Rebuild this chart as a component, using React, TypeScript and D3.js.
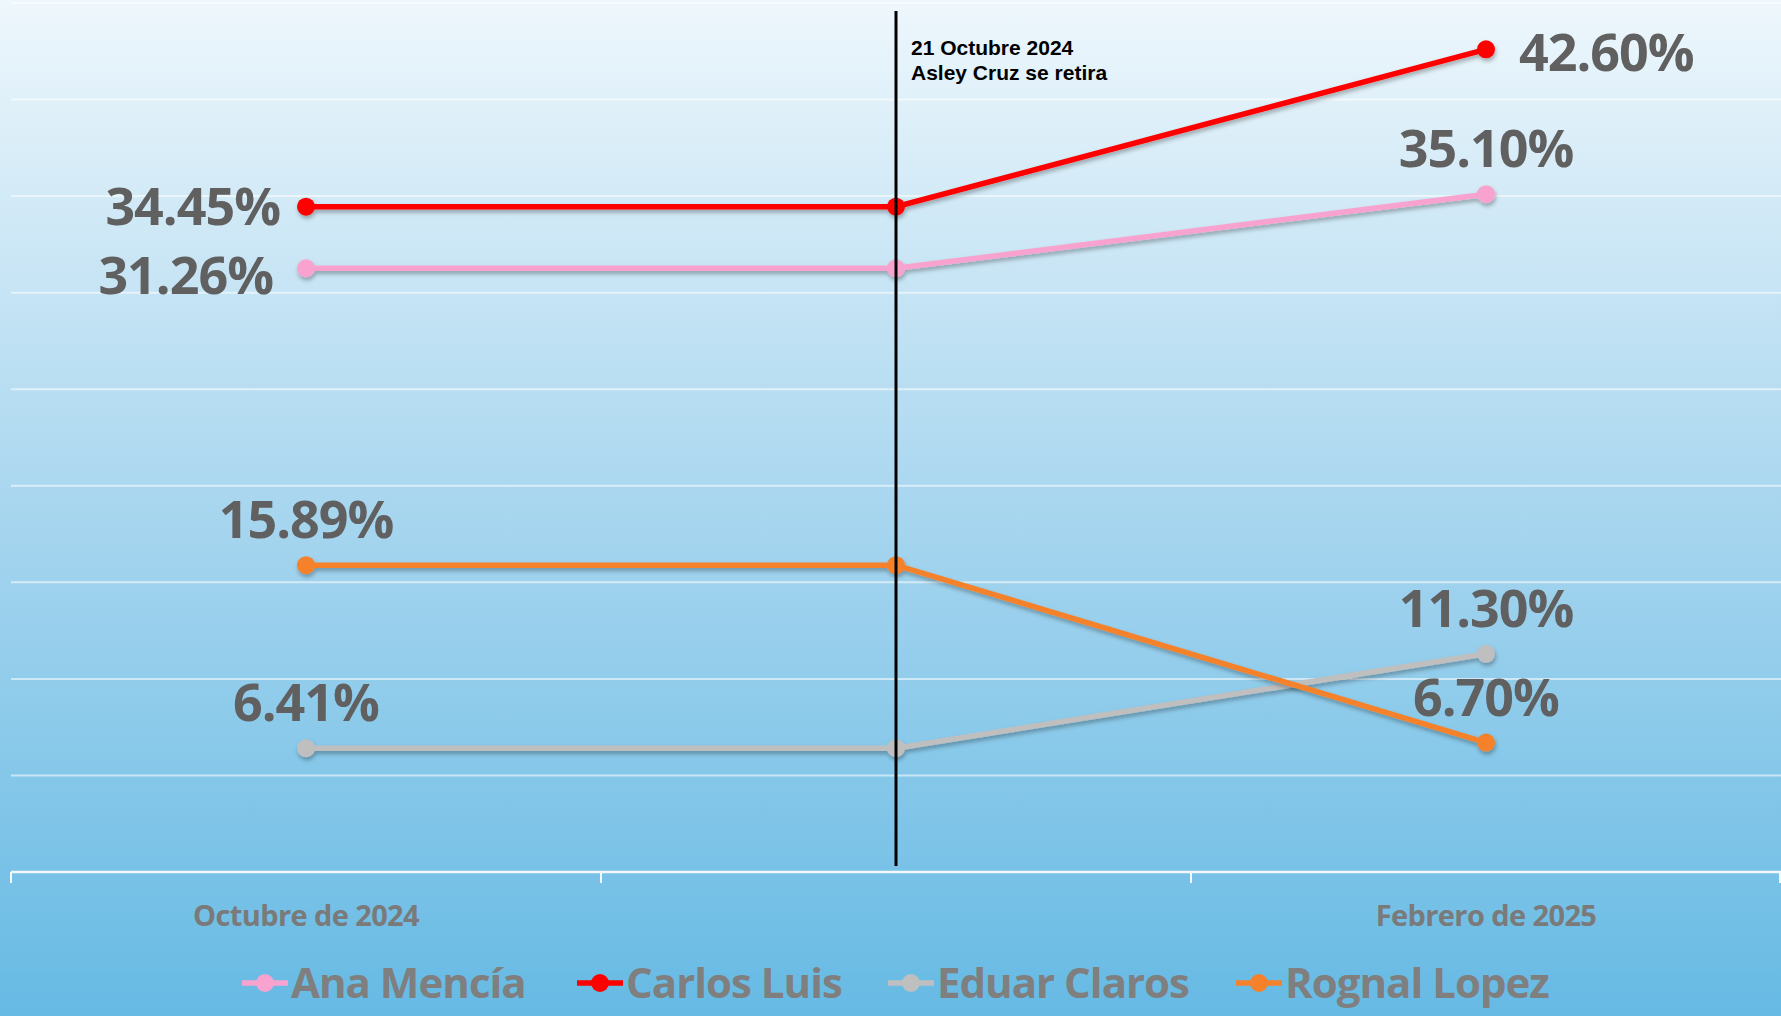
import React from 'react';
import * as d3 from 'd3';

const categories = ['Octubre de 2024', '', 'Febrero de 2025'];
const seriesNames = ['Ana Mencía', 'Carlos Luis', 'Eduar Claros', 'Rognal Lopez'];
const anaValues = [31.26, 31.26, 35.10];
const carlosValues = [34.45, 34.45, 42.60];
const eduarValues = [6.41, 6.41, 11.30];
const rognalValues = [15.89, 15.89, 6.70];
const seriesColors = ['#f8a3cf', '#ff0000', '#bfbfbf', '#f5822b'];
// where the value labels sit: first point / last point
const firstLabelPos = ['leftLow', 'left', 'above', 'above'];
const lastLabelPos = ['above', 'right', 'above', 'above'];
const yTicks = [0, 5, 10, 15, 20, 25, 30, 35, 40, 45];
const eventLines = ['21 Octubre 2024', 'Asley Cruz se retira'];

const W = 1781;
const H = 1016;

export default function App() {
  const values = [anaValues, carlosValues, eduarValues, rognalValues];

  const x = d3.scaleBand<number>().domain(d3.range(categories.length)).range([11, W]);
  const y = d3.scaleLinear().domain([0, 45]).range([872, 3]);
  const cx = (i: number) => (x(i) as number) + x.bandwidth() / 2;

  const line = d3.line<number>()
    .x((_, i) => cx(i))
    .y(d => y(d));

  const labelFont = "'Open Sans', 'Noto Sans', sans-serif";

  const valueLabel = (v: number, i: number, pos: string, key: string) => {
    const px = cx(i);
    const py = y(v);
    let tx = px, ty = py - 27, anchor = 'middle';
    if (pos === 'left') { tx = px - 26; ty = py + 18; anchor = 'end'; }
    if (pos === 'leftLow') { tx = px - 33; ty = py + 26; anchor = 'end'; }
    if (pos === 'right') { tx = px + 33; ty = py + 22; anchor = 'start'; }
    return (
      <text key={key} x={tx} y={ty} textAnchor={anchor} fontFamily={labelFont}
        fontWeight={700} fontSize={52} fill="#606060" letterSpacing={-1}>
        {v.toFixed(2) + '%'}
      </text>
    );
  };

  const legendX = [242, 577, 888, 1236];
  const eventX = cx(1);

  return (
    <svg width={W} height={H} style={{ position: 'absolute', left: 0, top: 0, display: 'block' }}>
      <defs>
        <linearGradient id="bg" x1="0" y1="0" x2="0" y2="1">
          <stop offset="0" stopColor="#eef7fc" />
          <stop offset="0.5" stopColor="#a8d6ef" />
          <stop offset="1" stopColor="#66bae4" />
        </linearGradient>
        <filter id="shadow" x="-10%" y="-10%" width="120%" height="130%">
          <feDropShadow dx="1" dy="3" stdDeviation="2" floodColor="#000" floodOpacity="0.3" />
        </filter>
      </defs>
      <rect x={0} y={0} width={W} height={H} fill="url(#bg)" />

      {/* gridlines */}
      {yTicks.slice(1).map(t => (
        <line key={t} x1={11} x2={W} y1={y(t)} y2={y(t)} stroke="#ffffff" strokeOpacity={0.55} strokeWidth={2} />
      ))}

      {/* x axis */}
      <line x1={11} x2={W} y1={y(0)} y2={y(0)} stroke="#f2f8fc" strokeWidth={2.5} />
      {d3.range(categories.length + 1).map(i => {
        const tx = i < categories.length ? (x(i) as number) : W - 1;
        return <line key={i} x1={tx} x2={tx} y1={y(0)} y2={y(0) + 11} stroke="#f2f8fc" strokeWidth={2} />;
      })}
      {categories.map((c, i) => (
        <text key={i} x={cx(i)} y={926} textAnchor="middle" fontFamily={labelFont}
          fontWeight={700} fontSize={29} fill="#7a7a7a" letterSpacing={-0.6}>{c}</text>
      ))}

      {/* series */}
      {values.map((vals, s) => (
        <g key={s} filter="url(#shadow)">
          <path d={line(vals) as string} fill="none" stroke={seriesColors[s]} strokeWidth={5.5} />
          {vals.map((v, i) => (
            <circle key={i} cx={cx(i)} cy={y(v)} r={9} fill={seriesColors[s]} />
          ))}
        </g>
      ))}

      {/* event marker */}
      <line x1={eventX} x2={eventX} y1={11} y2={866} stroke="#000" strokeWidth={3} />
      {eventLines.map((t, i) => (
        <text key={i} x={eventX + 15} y={55 + i * 25} fontFamily="'Liberation Sans Narrow', 'Liberation Sans', Arial, sans-serif"
          fontWeight={700} fontSize={21} fill="#000">{t}</text>
      ))}

      {/* value labels */}
      {values.map((vals, s) => valueLabel(vals[0], 0, firstLabelPos[s], 'f' + s))}
      {values.map((vals, s) => valueLabel(vals[vals.length - 1], vals.length - 1, lastLabelPos[s], 'l' + s))}

      {/* legend */}
      {seriesNames.map((n, s) => (
        <g key={n} transform={`translate(${legendX[s]},983)`}>
          <line x1={0} x2={46} y1={0} y2={0} stroke={seriesColors[s]} strokeWidth={5.5} />
          <circle cx={23} cy={0} r={9} fill={seriesColors[s]} />
          <text x={49} y={15} fontFamily={labelFont} fontWeight={700} fontSize={42}
            fill="#7f7f7f" letterSpacing={-1}>{n}</text>
        </g>
      ))}
    </svg>
  );
}
